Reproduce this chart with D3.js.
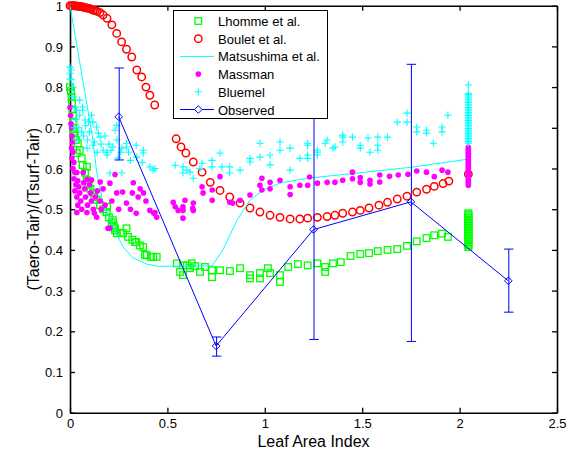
<!DOCTYPE html>
<html><head><meta charset="utf-8">
<script src="https://cdn.jsdelivr.net/npm/d3@7"></script>
<style>body{margin:0;background:#fff}svg{display:block;font-family:Arial,"Liberation Sans",Helvetica,sans-serif}</style>
</head><body><svg id="c" width="579" height="457"></svg>
<script>
// ---- data ----
const xTicks = [0, 0.5, 1, 1.5, 2, 2.5];
const xTickLabels = ["0", "0.5", "1", "1.5", "2", "2.5"];
const yTicks = [0, 0.1, 0.2, 0.3, 0.4, 0.5, 0.6, 0.7, 0.8, 0.9, 1];
const yTickLabels = ["0", "0.1", "0.2", "0.3", "0.4", "0.5", "0.6", "0.7", "0.8", "0.9", "1"];
const seriesNames = ["Lhomme et al.", "Boulet et al.", "Matsushima et al.", "Massman", "Bluemel", "Observed"];

const lhomme = [
 [0.0,0.80],[0.005,0.79],[0.008,0.776],[0.01,0.76],[0.012,0.745],[0.015,0.73],[0.018,0.715],[0.015,0.70],[0.02,0.69],
 [0.025,0.68],[0.03,0.67],[0.04,0.662],[0.05,0.645],[0.035,0.638],[0.06,0.625],[0.065,0.608],[0.077,0.59],[0.087,0.604],
 [0.086,0.572],[0.095,0.56],[0.105,0.55],[0.12,0.54],[0.125,0.53],[0.137,0.523],[0.154,0.51],[0.17,0.50],[0.19,0.506],
 [0.188,0.493],[0.2,0.48],[0.214,0.468],[0.22,0.473],[0.225,0.46],[0.231,0.453],[0.231,0.448],[0.24,0.441],[0.26,0.442],
 [0.273,0.441],[0.29,0.453],[0.298,0.432],[0.32,0.425],[0.334,0.419],[0.34,0.419],[0.359,0.411],[0.376,0.407],
 [0.385,0.388],[0.394,0.387],[0.415,0.383],[0.427,0.383],[0.445,0.383],
 [0.548,0.367],[0.565,0.346],[0.58,0.338],[0.58,0.362],[0.6,0.362],[0.616,0.355],[0.625,0.367],[0.642,0.36],[0.667,0.346],
 [0.693,0.358],[0.729,0.35],[0.729,0.333],[0.77,0.35],[0.821,0.348],[0.873,0.355],[0.924,0.338],[0.924,0.33],[0.975,0.343],
 [0.975,0.33],[1.016,0.355],[1.027,0.343],[1.078,0.338],[1.078,0.321],[1.12,0.358],[1.17,0.365],[1.22,0.362],[1.27,0.367],
 [1.31,0.346],[1.31,0.358],[1.35,0.367],[1.39,0.37],[1.44,0.385],[1.49,0.39],[1.535,0.392],[1.58,0.397],[1.63,0.40],
 [1.68,0.402],[1.73,0.41],[1.78,0.421],[1.83,0.429],[1.87,0.436],[1.91,0.44],[1.94,0.432],
 [2.045,0.407],[2.045,0.411],[2.045,0.415],[2.045,0.419],[2.045,0.423],[2.045,0.427],[2.045,0.431],[2.045,0.435],
 [2.045,0.439],[2.045,0.443],[2.045,0.447],[2.045,0.451],[2.045,0.455],[2.045,0.459],[2.045,0.463],[2.045,0.467],
 [2.045,0.471],[2.045,0.475],[2.045,0.479],[2.045,0.483],[2.045,0.487],[2.045,0.49]
];

const boulet = [
 [0,1],[0.008,1],[0.016,1],[0.024,1],[0.032,0.999],[0.04,0.999],[0.048,0.998],[0.056,0.998],[0.064,0.997],[0.072,0.996],
 [0.08,0.995],[0.09,0.994],[0.1,0.993],[0.11,0.991],[0.12,0.989],[0.13,0.988],[0.14,0.986],[0.154,0.983],[0.17,0.977],
 [0.19,0.969],[0.215,0.953],[0.24,0.932],[0.265,0.911],[0.29,0.893],[0.317,0.874],[0.343,0.842],[0.368,0.825],[0.39,0.80],
 [0.41,0.78],[0.435,0.756],[0.545,0.673],[0.57,0.653],[0.595,0.638],[0.633,0.616],[0.678,0.591],[0.72,0.566],[0.77,0.546],
 [0.82,0.53],[0.873,0.515],[0.924,0.503],[0.975,0.493],[1.027,0.485],[1.078,0.48],[1.13,0.476],[1.18,0.476],[1.22,0.478],
 [1.27,0.48],[1.32,0.482],[1.36,0.485],[1.40,0.49],[1.45,0.493],[1.49,0.497],[1.535,0.503],[1.586,0.51],[1.63,0.517],
 [1.68,0.525],[1.73,0.532],[1.78,0.542],[1.83,0.549],[1.87,0.556],[1.915,0.563],[1.945,0.569],[2.045,0.586]
];

const matsushima = [
 [0,1],[0.118,0.67],[0.137,0.59],[0.17,0.515],[0.22,0.456],[0.273,0.407],[0.324,0.38],[0.395,0.365],[0.45,0.36],
 [0.6,0.36],[0.73,0.361],[0.785,0.40],[0.857,0.473],[0.924,0.522],[0.99,0.547],[1.078,0.564],[1.217,0.576],
 [1.5,0.59],[1.75,0.603],[2.045,0.623]
];

const massman = [
 [0.0,0.75],[0.003,0.73],[0.005,0.71],[0.008,0.70],[0.01,0.68],[0.012,0.665],[0.008,0.65],[0.015,0.64],[0.01,0.625],
 [0.02,0.615],[0.015,0.60],[0.025,0.59],[0.02,0.575],[0.03,0.56],[0.025,0.545],[0.035,0.59],[0.04,0.57],[0.045,0.555],
 [0.035,0.53],[0.05,0.54],[0.055,0.52],[0.04,0.51],[0.035,0.492],[0.06,0.5],[0.068,0.59],[0.07,0.565],[0.075,0.55],
 [0.08,0.53],[0.087,0.573],[0.09,0.51],[0.087,0.492],[0.1,0.56],[0.105,0.54],[0.11,0.572],[0.11,0.52],[0.12,0.5],
 [0.125,0.49],[0.137,0.48],[0.13,0.53],[0.14,0.545],[0.155,0.567],[0.155,0.52],[0.16,0.5],[0.17,0.55],[0.18,0.51],
 [0.195,0.453],[0.205,0.564],[0.205,0.453],[0.215,0.52],[0.231,0.585],[0.24,0.54],[0.25,0.5],[0.27,0.542],[0.29,0.515],
 [0.31,0.5],[0.32,0.54],[0.325,0.565],[0.34,0.49],[0.35,0.53],[0.36,0.55],[0.377,0.54],[0.39,0.52],[0.41,0.497],
 [0.43,0.49],[0.436,0.492],[0.445,0.48],
 [0.53,0.517],[0.54,0.506],[0.555,0.497],[0.58,0.497],[0.58,0.478],[0.58,0.506],[0.59,0.522],[0.63,0.502],[0.633,0.515],
 [0.633,0.497],[0.678,0.555],[0.683,0.54],[0.73,0.547],[0.73,0.522],[0.77,0.58],[0.82,0.517],[0.835,0.515],[0.873,0.522],
 [0.924,0.535],[0.975,0.559],[0.985,0.576],[0.985,0.547],[1.027,0.566],[1.027,0.55],[1.078,0.571],[1.13,0.555],
 [1.13,0.536],[1.18,0.559],[1.22,0.559],[1.23,0.579],[1.27,0.564],[1.32,0.566],[1.36,0.566],[1.40,0.571],[1.45,0.591],
 [1.45,0.575],[1.49,0.578],[1.49,0.566],[1.54,0.571],[1.54,0.562],[1.59,0.584],[1.59,0.567],[1.64,0.581],[1.685,0.584],
 [1.735,0.586],[1.78,0.594],[1.83,0.591],[1.87,0.58],[1.91,0.596],[1.94,0.591],
 [2.045,0.559],[2.045,0.563],[2.045,0.567],[2.045,0.571],[2.045,0.575],[2.045,0.579],[2.045,0.583],[2.045,0.587],
 [2.045,0.591],[2.045,0.595],[2.045,0.599],[2.045,0.603],[2.045,0.607],[2.045,0.611],[2.045,0.615],[2.045,0.619],
 [2.045,0.623],[2.045,0.627],[2.045,0.631],[2.045,0.635],[2.045,0.639],[2.045,0.643],[2.045,0.647],[2.045,0.652]
];

const bluemel = [
 [0.0,0.849],[0.0,0.834],[0.0,0.82],[0.005,0.842],[0.008,0.818],[0.015,0.80],[0.015,0.776],[0.025,0.75],[0.035,0.743],
 [0.05,0.768],[0.05,0.731],[0.065,0.751],[0.065,0.743],[0.077,0.719],[0.11,0.731],[0.118,0.714],[0.137,0.702],
 [0.145,0.687],[0.1,0.69],[0.09,0.67],[0.118,0.657],[0.154,0.677],[0.17,0.645],[0.19,0.64],[0.231,0.694],[0.24,0.706],
 [0.241,0.67],[0.22,0.653],[0.266,0.65],[0.29,0.662],[0.3,0.64],[0.31,0.62],[0.37,0.615],[0.41,0.604],[0.436,0.60],
 [0.34,0.657],[0.21,0.645],[0.035,0.67],[0.087,0.65],[0.19,0.633],[0.205,0.589],[0.247,0.626],[0.266,0.589],
 [0.29,0.653],[0.343,0.628],[0.376,0.645],[0.427,0.596],[0.376,0.638],[0.02,0.70],[0.03,0.72],[0.045,0.70],[0.06,0.69],
 [0.07,0.68],[0.08,0.705],[0.095,0.715],[0.125,0.665],[0.14,0.64],[0.16,0.66],[0.18,0.68],[0.2,0.66],[0.26,0.64],
 [0.54,0.608],[0.6,0.596],[0.58,0.604],[0.58,0.589],[0.616,0.591],[0.633,0.576],[0.678,0.613],[0.667,0.60],[0.729,0.62],
 [0.729,0.604],[0.77,0.638],[0.78,0.604],[0.82,0.604],[0.82,0.589],[0.873,0.596],[0.924,0.625],[0.924,0.616],[0.975,0.662],
 [0.975,0.628],[1.027,0.633],[1.027,0.609],[1.078,0.665],[1.078,0.645],[1.13,0.65],[1.13,0.596],[1.18,0.625],[1.22,0.633],
 [1.22,0.662],[1.22,0.657],[1.22,0.625],[1.27,0.64],[1.27,0.645],[1.27,0.633],[1.31,0.662],[1.32,0.67],[1.35,0.65],
 [1.36,0.653],[1.40,0.677],[1.40,0.682],[1.40,0.665],[1.45,0.677],[1.49,0.657],[1.49,0.65],[1.53,0.675],[1.54,0.64],
 [1.58,0.677],[1.58,0.657],[1.58,0.645],[1.63,0.677],[1.68,0.714],[1.73,0.736],[1.73,0.714],[1.78,0.702],[1.78,0.69],
 [1.83,0.694],[1.83,0.687],[1.865,0.662],[1.91,0.702],[1.91,0.69],[1.94,0.731],
 [2.045,0.662],[2.045,0.666],[2.045,0.670],[2.045,0.674],[2.045,0.678],[2.045,0.682],[2.045,0.686],[2.045,0.690],
 [2.045,0.694],[2.045,0.698],[2.045,0.702],[2.045,0.706],[2.045,0.710],[2.045,0.714],[2.045,0.718],[2.045,0.722],
 [2.045,0.726],[2.045,0.730],[2.045,0.734],[2.045,0.738],[2.045,0.742],[2.045,0.746],[2.045,0.750],[2.045,0.754],
 [2.045,0.758],[2.045,0.762],[2.045,0.766],[2.045,0.770],[2.045,0.774],[2.045,0.778],[2.045,0.782],[2.045,0.785],
 [2.045,0.805]
];

const obsX = [0.25, 0.75, 1.25, 1.75, 2.25];
const obsY = [0.727, 0.164, 0.450, 0.518, 0.324];
const obsLow = [0.621, 0.139, 0.180, 0.175, 0.247];
const obsHigh = [0.847, 0.186, 0.724, 0.856, 0.402];

// ---- colours ----
const cGreen = "#00ff00", cRed = "#ff0000", cCyan = "#00ffff", cMag = "#ff00ff", cBlue = "#0000ff";

const svg = d3.select("#c");
const x = d3.scaleLinear().domain([0, 2.5]).range([70, 557]);
const y = d3.scaleLinear().domain([0, 1]).range([412.7, 5.7]);

// axes
const axStyle = g => { g.selectAll("path,line").attr("stroke", "#000").attr("stroke-width", 1.3);
  g.selectAll("text").attr("fill", "#000").attr("font-size", 13).attr("font-family", "Arial, 'Liberation Sans', sans-serif"); };
svg.append("g").attr("transform", `translate(0,${y(0)})`)
  .call(d3.axisBottom(x).tickValues(xTicks).tickFormat((d, i) => xTickLabels[i]).tickSizeInner(-5).tickSizeOuter(0).tickPadding(6))
  .call(axStyle);
svg.append("g").attr("transform", `translate(0,${y(1)})`)
  .call(d3.axisTop(x).tickValues(xTicks).tickFormat("").tickSizeInner(-5).tickSizeOuter(0))
  .call(axStyle);
svg.append("g").attr("transform", `translate(${x(0)},0)`)
  .call(d3.axisLeft(y).tickValues(yTicks).tickFormat((d, i) => yTickLabels[i]).tickSizeInner(-5).tickSizeOuter(0).tickPadding(7))
  .call(axStyle)
  .selectAll("text").attr("dy", "0.36em");
svg.append("g").attr("transform", `translate(${x(2.5)},0)`)
  .call(d3.axisRight(y).tickValues(yTicks).tickFormat("").tickSizeInner(-5).tickSizeOuter(0))
  .call(axStyle);
svg.selectAll(".domain").attr("stroke-width", 1.6);

// axis titles
svg.append("text").attr("x", (x(0) + x(2.5)) / 2).attr("y", 447).attr("text-anchor", "middle")
  .attr("font-size", 16).text("Leaf Area Index");
svg.append("text").attr("transform", `translate(39,${(y(0) + y(1)) / 2}) rotate(-90)`).attr("text-anchor", "middle")
  .attr("font-size", 16).text("(Taero-Tair)/(Tsurf-Tair)");

// markers
const plus = (g, cx, cy, h) => g.append("path").attr("d", `M${cx - h},${cy}H${cx + h}M${cx},${cy - h}V${cy + h}`)
  .attr("stroke", cCyan).attr("stroke-width", 1.1).attr("fill", "none");

// Lhomme squares
svg.append("g").selectAll("rect").data(lhomme).join("rect")
  .attr("x", d => x(d[0]) - 3.3).attr("y", d => y(d[1]) - 3.3).attr("width", 6.6).attr("height", 6.6)
  .attr("fill", "none").attr("stroke", cGreen).attr("stroke-width", 1.3);
// Boulet circles
svg.append("g").selectAll("circle").data(boulet).join("circle")
  .attr("cx", d => x(d[0])).attr("cy", d => y(d[1])).attr("r", 3.7)
  .attr("fill", "none").attr("stroke", cRed).attr("stroke-width", 1.5);
// Matsushima line
svg.append("path").datum(matsushima)
  .attr("d", d3.line().x(d => x(d[0])).y(d => y(d[1])))
  .attr("fill", "none").attr("stroke", cCyan).attr("stroke-width", 1);
// Massman dots
svg.append("g").selectAll("circle").data(massman).join("circle")
  .attr("cx", d => x(d[0])).attr("cy", d => y(d[1])).attr("r", 2.8).attr("fill", cMag);
// Bluemel plus
const gb = svg.append("g");
bluemel.forEach(d => plus(gb, x(d[0]), y(d[1]), 3.6));

// Observed
const obs = obsX.map((v, i) => ({ x: v, y: obsY[i], lo: obsLow[i], hi: obsHigh[i] }));
const go = svg.append("g");
go.append("path").datum(obs).attr("d", d3.line().x(d => x(d.x)).y(d => y(d.y)))
  .attr("fill", "none").attr("stroke", cBlue).attr("stroke-width", 1);
obs.forEach(d => {
  const cx = x(d.x) + 0.5;
  go.append("path").attr("d", `M${cx},${y(d.lo)}V${y(d.hi)}M${cx - 4.7},${y(d.lo)}H${cx + 4.7}M${cx - 4.7},${y(d.hi)}H${cx + 4.7}`)
    .attr("fill", "none").attr("stroke", cBlue).attr("stroke-width", 1);
  const cy = y(d.y), dx = x(d.x);
  go.append("path").attr("d", `M${dx},${cy - 3.8}L${dx + 3.8},${cy}L${dx},${cy + 3.8}L${dx - 3.8},${cy}Z`)
    .attr("fill", "none").attr("stroke", cBlue).attr("stroke-width", 1);
});

// legend
const lg = svg.append("g");
lg.append("rect").attr("x", 173.5).attr("y", 10.5).attr("width", 154).attr("height", 108)
  .attr("fill", "#fff").attr("stroke", "#000").attr("stroke-width", 1);
const rowY = [21, 38.7, 56.4, 74.1, 91.8, 109.5];
const sx = 198.3;
lg.append("rect").attr("x", sx - 3.3).attr("y", rowY[0] - 3.3).attr("width", 6.6).attr("height", 6.6)
  .attr("fill", "none").attr("stroke", cGreen).attr("stroke-width", 1.3);
lg.append("circle").attr("cx", sx).attr("cy", rowY[1]).attr("r", 3.7).attr("fill", "none").attr("stroke", cRed).attr("stroke-width", 1.5);
lg.append("line").attr("x1", 180).attr("x2", 214).attr("y1", rowY[2]).attr("y2", rowY[2]).attr("stroke", cCyan).attr("stroke-width", 1);
lg.append("circle").attr("cx", sx).attr("cy", rowY[3]).attr("r", 2.8).attr("fill", cMag);
plus(lg, sx, rowY[4], 3.6);
lg.append("line").attr("x1", 180).attr("x2", 214).attr("y1", rowY[5]).attr("y2", rowY[5]).attr("stroke", cBlue).attr("stroke-width", 1);
lg.append("path").attr("d", `M${sx},${rowY[5] - 3.8}L${sx + 3.8},${rowY[5]}L${sx},${rowY[5] + 3.8}L${sx - 3.8},${rowY[5]}Z`)
  .attr("fill", "#fff").attr("stroke", cBlue).attr("stroke-width", 1);
lg.selectAll("text.l").data(seriesNames).join("text").attr("class", "l")
  .attr("x", 218).attr("y", (d, i) => rowY[i] + 5).attr("font-size", 13).attr("fill", "#000").text(d => d);
</script></body></html>
